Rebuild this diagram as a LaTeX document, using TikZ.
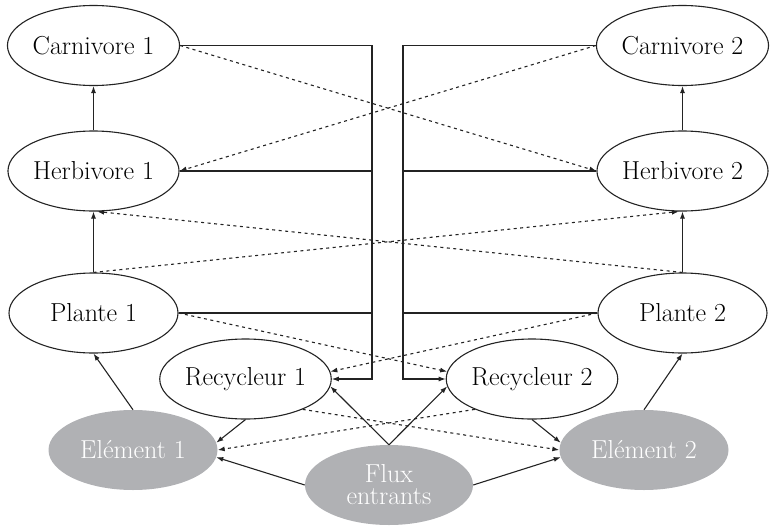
\documentclass[tikz,border=0pt]{standalone}
\usetikzlibrary{shapes.geometric,arrows.meta,calc}
\definecolor{elgray}{RGB}{176,177,180}
\definecolor{ln}{RGB}{35,35,35}
\begin{document}
\begin{tikzpicture}[x=1pt,y=-1pt,
  box/.style={ellipse,draw=ln,line width=1.1pt,minimum width=169pt,minimum height=80pt,inner sep=0pt,font=\fontsize{26}{21}\selectfont},
  elem/.style={ellipse,fill=elgray,text=white,minimum width=169pt,minimum height=80pt,inner sep=0pt,font=\fontsize{26}{21}\selectfont,align=center},
  arr/.style={draw=ln,line width=1.1pt,-{Latex[length=7pt,width=5pt]}},
  darr/.style={arr,dash pattern=on 3pt off 3.5pt},
  bus/.style={draw=ln,line width=1.1pt}]
\useasboundingbox (0,0) rectangle (771,525);

\node[box] (c1) at (93.5,45.5) {Carnivore 1};
\node[box] (h1) at (93.5,171) {Herbivore 1};
\node[box] (p1) at (93.5,313) {Plante 1};
\node[box] (r1) at (245.5,379) {Recycleur 1};
\node[elem] (e1) at (133,450) {Elément 1};
\node[elem,minimum width=168pt] (fx) at (389,485) {Flux\\[1pt]entrants};
\node[elem] (e2) at (644,450) {Elément 2};
\node[box] (r2) at (532,379) {Recycleur 2};
\node[box] (p2) at (682.5,313) {Plante 2};
\node[box] (h2) at (682.5,171) {Herbivore 2};
\node[box] (c2) at (682.5,45.5) {Carnivore 2};

\coordinate (bl) at (372,379);
\coordinate (br) at (403,379);

% buses
\draw[arr] (c1.east) -| (bl) -- (r1.east);
\draw[bus] (h1.east) -- (h1.east -| bl);
\draw[bus] (p1.east) -- (p1.east -| bl);
\draw[arr] (c2.west) -| (br) -- (r2.west);
\draw[bus] (h2.west) -- (h2.west -| br);
\draw[bus] (p2.west) -- (p2.west -| br);

% vertical food chain
\draw[arr] (h1.north) -- (c1.south);
\draw[arr] (p1.north) -- (h1.south);
\draw[arr] (h2.north) -- (c2.south);
\draw[arr] (p2.north) -- (h2.south);

% dashed cross links
\draw[darr] (c1.east) -- (h2.west);
\draw[darr] (c2.west) -- (h1.east);
\draw[darr] (p1.north) -- (h2.265);
\draw[darr] (p2.north) -- (h1.275);
\draw[darr] (p1.east) -- (r2.175);
\draw[darr] (p2.west) -- (r1.5);
\draw[darr] (r1.332) -- (e2.180);
\draw[darr] (r2.208) -- (e1.east);

% elements and recyclers
\draw[arr] (e1.north) -- (p1.south);
\draw[arr] (e2.north) -- (p2.south);
\draw[arr] (r1.south) -- (e1.5);
\draw[arr] (r2.south) -- (e2.175);

% flux
\draw[arr] (fx.north) -- (r1.355);
\draw[arr] (fx.north) -- (r2.185);
\draw[arr] (fx.west) -- (e1.355);
\draw[arr] (fx.east) -- (e2.185);
\end{tikzpicture}
\end{document}
